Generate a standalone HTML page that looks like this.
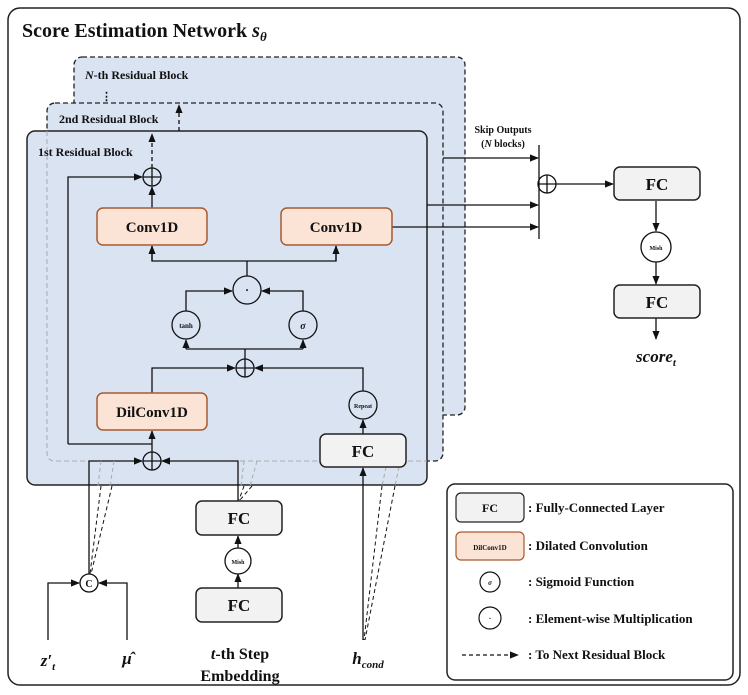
<!DOCTYPE html>
<html><head><meta charset="utf-8"><style>
html,body{margin:0;padding:0;background:#fff}
svg{display:block}
text{font-family:"Liberation Serif",serif;font-weight:bold;fill:#111}
</style></head><body>
<svg width="748" height="695" viewBox="0 0 748 695" xmlns="http://www.w3.org/2000/svg">
<defs>
<marker id="a" viewBox="0 0 10 10" refX="9" refY="5" markerWidth="7" markerHeight="7" orient="auto"><path d="M0,1 L10,5 L0,9z" fill="#111"/></marker>
</defs>
<rect x="8" y="8" width="732" height="677" rx="12" fill="#fff" stroke="#222" stroke-width="1.5"/>
<text x="22" y="37" font-size="20">Score Estimation Network <tspan font-style="italic">s</tspan><tspan font-style="italic" font-size="13" dy="4">θ</tspan></text>

<!-- blocks -->
<rect x="74" y="57" width="391" height="358" rx="8" fill="#dae3f2" stroke="#222" stroke-width="1.3" stroke-dasharray="5,3"/>
<text x="85" y="79" font-size="12"><tspan font-style="italic">N</tspan>-th Residual Block</text>
<text x="101" y="100" font-size="11">⋮</text>
<rect x="47" y="103" width="396" height="358" rx="8" fill="#dae3f2" stroke="#222" stroke-width="1.3" stroke-dasharray="5,3"/>
<text x="59" y="123" font-size="12">2nd Residual Block</text>
<rect x="27" y="131" width="400" height="354" rx="8" fill="#dae3f2" stroke="#222" stroke-width="1.5"/>
<path d="M47,131 L47,453 Q47,461 55,461 L427,461" fill="none" stroke="#aaa" stroke-width="1" stroke-dasharray="5,3"/>
<text x="38" y="156" font-size="12">1st Residual Block</text>

<g stroke="#111" stroke-width="1.3" fill="none">
<line x1="152" y1="168" x2="152" y2="134" stroke-dasharray="4,3" marker-end="url(#a)"/>
<line x1="179" y1="131" x2="179" y2="105" stroke-dasharray="4,3" marker-end="url(#a)"/>
<circle cx="152" cy="177" r="9"/><line x1="143" y1="177" x2="161" y2="177"/><line x1="152" y1="168" x2="152" y2="186"/>
<polyline points="68,444 68,177 142,177" marker-end="url(#a)"/>
<line x1="152" y1="208" x2="152" y2="187" marker-end="url(#a)"/>
<polyline points="152,246 152,261 336,261 336,246"/>
<line x1="152" y1="261" x2="152" y2="246" marker-end="url(#a)"/>
<line x1="336" y1="261" x2="336" y2="246" marker-end="url(#a)"/>
<line x1="247" y1="276" x2="247" y2="261"/>
<circle cx="247" cy="290" r="14"/>
<polyline points="186,311 186,291 232,291" marker-end="url(#a)"/>
<polyline points="303,311 303,291 262,291" marker-end="url(#a)"/>
<circle cx="186" cy="325" r="14"/>
<circle cx="303" cy="325" r="14"/>
<polyline points="186,349 303,349"/>
<line x1="186" y1="349" x2="186" y2="340" marker-end="url(#a)"/>
<line x1="303" y1="349" x2="303" y2="340" marker-end="url(#a)"/>
<line x1="245" y1="359" x2="245" y2="349"/>
<circle cx="245" cy="368" r="9"/><line x1="236" y1="368" x2="254" y2="368"/><line x1="245" y1="359" x2="245" y2="377"/>
<polyline points="152,393 152,368 235,368" marker-end="url(#a)"/>
<polyline points="363,391 363,368 255,368" marker-end="url(#a)"/>
<circle cx="363" cy="405" r="14"/>
<line x1="363" y1="434" x2="363" y2="420" marker-end="url(#a)"/>
<line x1="152" y1="452" x2="152" y2="431" marker-end="url(#a)"/>
<line x1="68" y1="444" x2="152" y2="444"/>
<circle cx="152" cy="461" r="9"/><line x1="143" y1="461" x2="161" y2="461"/><line x1="152" y1="452" x2="152" y2="470"/>
<polyline points="89,574 89,461 142,461" marker-end="url(#a)"/>
<polyline points="238,501 238,461 162,461" marker-end="url(#a)"/>
<line x1="363" y1="640" x2="363" y2="468" marker-end="url(#a)"/>
<circle cx="89" cy="583" r="9"/>
<polyline points="48,640 48,583 79,583" marker-end="url(#a)"/>
<polyline points="127,640 127,583 99,583" marker-end="url(#a)"/>
<line x1="238" y1="622" x2="238" y2="601" marker-end="url(#a)"/>
<line x1="238" y1="549" x2="238" y2="536" marker-end="url(#a)"/>
<line x1="238" y1="588" x2="238" y2="574" marker-end="url(#a)"/>
<circle cx="238" cy="561" r="13" fill="#fff"/>
<g stroke-dasharray="4,3" stroke-width="1">
<line x1="101" y1="486" x2="90" y2="574"/><line x1="112" y1="486" x2="91" y2="574"/>
<line x1="244" y1="486" x2="239" y2="500"/><line x1="252" y1="486" x2="240" y2="500"/>
<line x1="382" y1="486" x2="364" y2="640"/><line x1="395" y1="486" x2="365" y2="640"/>
</g>
<g stroke="#aaa" stroke-dasharray="4,3" stroke-width="1">
<line x1="101" y1="461" x2="98" y2="486"/><line x1="114" y1="461" x2="110" y2="486"/>
<line x1="244" y1="461" x2="241" y2="486"/><line x1="257" y1="461" x2="250" y2="486"/>
<line x1="386" y1="467" x2="382" y2="486"/><line x1="399" y1="467" x2="395" y2="486"/>
</g>
<line x1="443" y1="158" x2="538" y2="158" marker-end="url(#a)"/>
<line x1="427" y1="205" x2="538" y2="205" marker-end="url(#a)"/>
<line x1="392" y1="227" x2="538" y2="227" marker-end="url(#a)"/>
<line x1="539" y1="145" x2="539" y2="239"/>
<circle cx="547" cy="184" r="9"/><line x1="538" y1="184" x2="556" y2="184"/><line x1="547" y1="175" x2="547" y2="193"/>
<line x1="556" y1="184" x2="613" y2="184" marker-end="url(#a)"/>
<line x1="656" y1="201" x2="656" y2="231" marker-end="url(#a)"/>
<circle cx="656" cy="247" r="15"/>
<line x1="656" y1="262" x2="656" y2="284" marker-end="url(#a)"/>
<line x1="656" y1="318" x2="656" y2="339" marker-end="url(#a)"/>
</g>

<g stroke-width="1.5">
<rect x="97" y="208" width="110" height="37" rx="6" fill="#fbe3d5" stroke="#a85a30"/>
<rect x="281" y="208" width="111" height="37" rx="6" fill="#fbe3d5" stroke="#a85a30"/>
<rect x="97" y="393" width="110" height="37" rx="6" fill="#fbe3d5" stroke="#a85a30"/>
<rect x="320" y="434" width="86" height="33" rx="6" fill="#f2f2f2" stroke="#222"/>
<rect x="196" y="501" width="86" height="34" rx="6" fill="#f2f2f2" stroke="#222"/>
<rect x="196" y="588" width="86" height="34" rx="6" fill="#f2f2f2" stroke="#222"/>
<rect x="614" y="167" width="86" height="33" rx="6" fill="#f2f2f2" stroke="#222"/>
<rect x="614" y="285" width="86" height="33" rx="6" fill="#f2f2f2" stroke="#222"/>
</g>
<g text-anchor="middle">
<text x="152" y="232" font-size="15">Conv1D</text>
<text x="336" y="232" font-size="15">Conv1D</text>
<text x="152" y="417" font-size="15">DilConv1D</text>
<text x="363" y="457" font-size="17">FC</text>
<text x="239" y="524" font-size="17">FC</text>
<text x="239" y="611" font-size="17">FC</text>
<text x="657" y="190" font-size="17">FC</text>
<text x="657" y="308" font-size="17">FC</text>
<text x="247" y="294" font-size="12">·</text>
<text x="186" y="328" font-size="7">tanh</text>
<text x="303" y="329" font-size="10" font-style="italic">σ</text>
<text x="363" y="408" font-size="6">Repeat</text>
<text x="238" y="564" font-size="6">Mish</text>
<text x="656" y="250" font-size="6">Mish</text>
<text x="89" y="587" font-size="10" font-family="Liberation Sans,sans-serif">C</text>
<text x="503" y="133" font-size="10">Skip Outputs</text>
<text x="503" y="147" font-size="10">(<tspan font-style="italic">N</tspan> blocks)</text>
<text x="656" y="362" font-size="17" font-style="italic">score<tspan font-size="11" dy="4">t</tspan></text>
<text x="48" y="666" font-size="17" font-style="italic">z′<tspan font-size="11" dy="4">t</tspan></text>
<text x="127" y="664" font-size="17" font-style="italic">μ̂</text>
<text x="240" y="659" font-size="16"><tspan font-style="italic">t</tspan>-th Step</text>
<text x="240" y="681" font-size="16">Embedding</text>
<text x="368" y="664" font-size="17" font-style="italic">h<tspan font-size="11" dy="4">cond</tspan></text>
</g>

<rect x="447" y="484" width="286" height="196" rx="8" fill="#fff" stroke="#222" stroke-width="1.5"/>
<rect x="456" y="493" width="68" height="29" rx="5" fill="#f2f2f2" stroke="#222" stroke-width="1.2"/>
<text x="490" y="512" font-size="12" text-anchor="middle">FC</text>
<rect x="456" y="532" width="68" height="28" rx="5" fill="#fbe3d5" stroke="#a85a30" stroke-width="1.2"/>
<text x="490" y="550" font-size="7" text-anchor="middle" fill="#333">DilConv1D</text>
<circle cx="490" cy="582" r="10" fill="#fff" stroke="#111" stroke-width="1.2"/>
<text x="490" y="585" font-size="7" text-anchor="middle" font-style="italic">σ</text>
<circle cx="490" cy="618" r="11" fill="#fff" stroke="#111" stroke-width="1.2"/>
<text x="490" y="621" font-size="8" text-anchor="middle">·</text>
<line x1="462" y1="655" x2="518" y2="655" stroke="#111" stroke-width="1.3" stroke-dasharray="4,3" marker-end="url(#a)"/>
<g font-size="13">
<text x="528" y="512">: Fully-Connected Layer</text>
<text x="528" y="550">: Dilated Convolution</text>
<text x="528" y="586">: Sigmoid Function</text>
<text x="528" y="623">: Element-wise  Multiplication</text>
<text x="528" y="659">: To Next Residual Block</text>
</g>
</svg>
</body></html>
